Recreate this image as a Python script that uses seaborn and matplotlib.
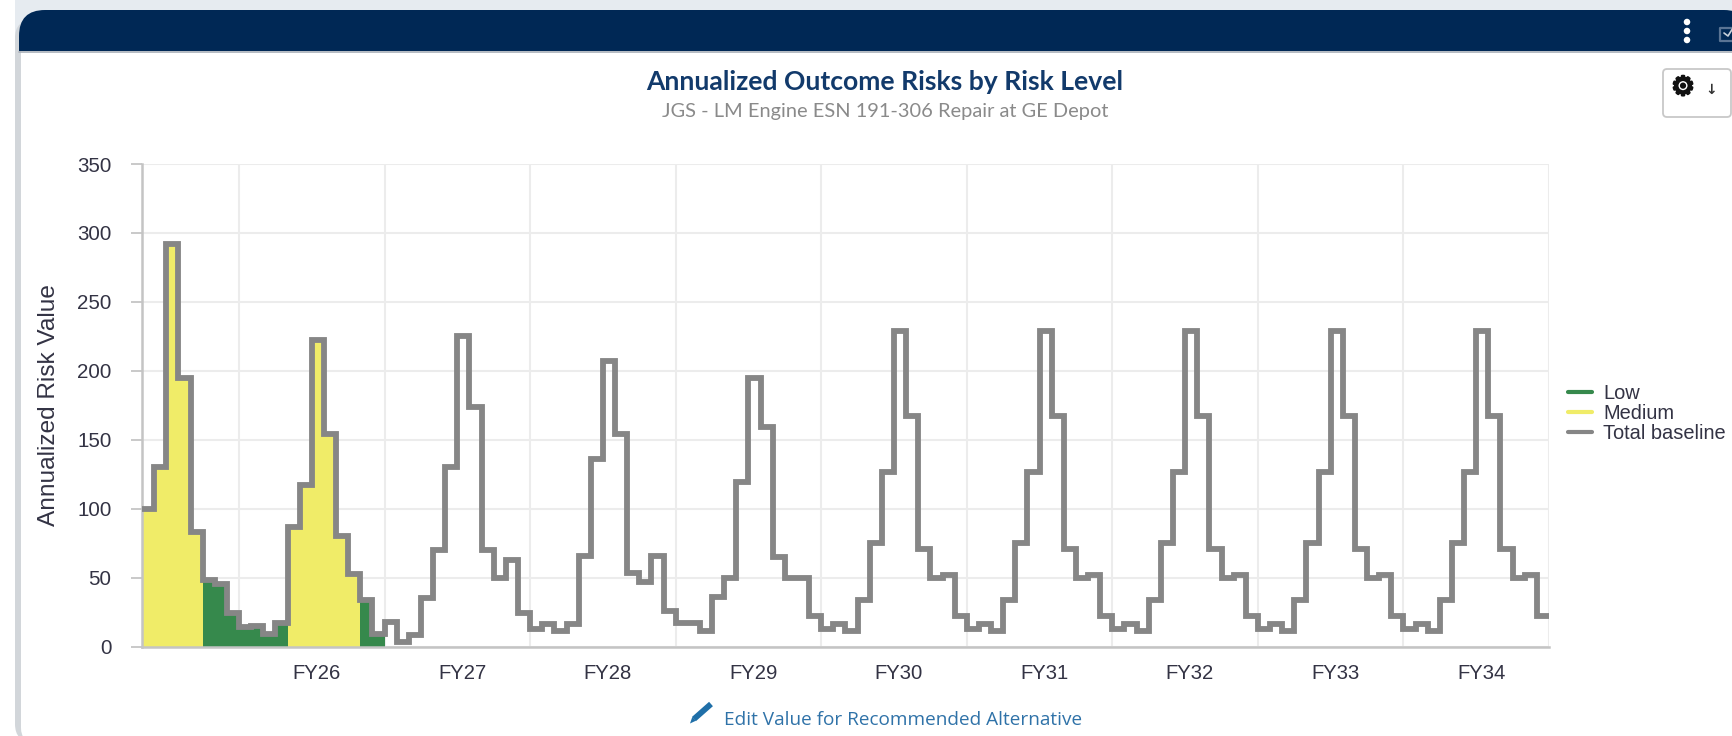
import numpy as np
import pandas as pd
import matplotlib
matplotlib.use("Agg")
import matplotlib.pyplot as plt
import matplotlib.patheffects as pe
from matplotlib.patches import FancyBboxPatch, Rectangle, Ellipse, Polygon
from matplotlib.lines import Line2D
import seaborn as sns

title = "Annualized Outcome Risks by Risk Level"
subtitle = "JGS - LM Engine ESN 191-306 Repair at GE Depot"
ylabel = "Annualized Risk Value"
footer = "Edit Value for Recommended Alternative"
fy_labels = ["FY26", "FY27", "FY28", "FY29", "FY30", "FY31", "FY32", "FY33", "FY34"]
y_ticks = [0, 50, 100, 150, 200, 250, 300, 350]

baseline = [
    100, 130, 292, 195, 83, 48, 45, 24.5,
    14.5, 15, 9, 17, 87, 117, 222, 154, 80, 52.5, 34, 9,
    18, 3.6, 8, 35, 70, 130.5, 225, 173.5, 70, 49.5, 62.4, 24,
    13, 16.4, 11.6, 16.4, 65.7, 136, 207, 154, 53, 46.6, 65.7, 26,
    17.4, 17.4, 11.6, 35.8, 50, 119, 194.6, 159.5, 65, 50, 50, 22,
    13, 16.4, 11.6, 34, 75, 126.5, 228.5, 167.5, 70.6, 49.5, 52, 22,
    13, 16.4, 11.6, 34, 75, 126.5, 228.5, 167.5, 70.6, 49.5, 52, 22,
    13, 16.4, 11.6, 34, 75, 126.5, 228.5, 167.5, 70.6, 49.5, 52, 22,
    13, 16.4, 11.6, 34, 75, 126.5, 228.5, 167.5, 70.6, 49.5, 52, 22,
    13, 16.4, 11.6, 34, 75, 126.5, 228.5, 167.5, 70.6, 49.5, 52, 22,
]
medium_months = [0, 1, 2, 3, 4, 12, 13, 14, 15, 16, 17]
low_months = [5, 6, 7, 8, 9, 10, 11, 18, 19]

NAVY = "#002855"
W, H = 1733, 736
sns.set_theme(style="white")
plt.rcParams["font.family"] = ["Liberation Sans", "DejaVu Sans"]
fig = plt.figure(figsize=(W / 100, H / 100), dpi=100, facecolor="white")

def fx(px): return px / W
def fy(px): return 1 - px / H

# page furniture, in pixel coordinates of a background axes
bg = fig.add_axes([0, 0, 1, 1], zorder=-1)
bg.set_xlim(0, W); bg.set_ylim(H, 0); bg.axis("off")
bg.add_patch(Rectangle((15, 0), W, 60, fc="#e6ebf0", ec="none", zorder=1))
bg.add_patch(FancyBboxPatch((15, 20), W + 40, 722, boxstyle="round,pad=0,rounding_size=18",
                            fc="#d2d6da", ec="none", zorder=1))
bg.add_patch(FancyBboxPatch((21, 30), W + 40, 712, boxstyle="round,pad=0,rounding_size=14",
                            fc="white", ec="none", zorder=2))
bg.add_patch(FancyBboxPatch((19, 10), W + 15 - 19 + 2, 70, boxstyle="round,pad=0,rounding_size=26",
                            fc=NAVY, ec="none", zorder=3))
bg.add_patch(Rectangle((21, 51), W, 40, fc="white", ec="none", zorder=4))
bg.add_patch(Rectangle((15, 51), 6, 40, fc="#d2d6da", ec="none", zorder=4))
bg.plot([19, W], [52, 52], color="#a8afb8", lw=1.2, zorder=5)
for py in (22, 31, 40):
    bg.add_patch(Ellipse((1687, py), 6.5, 6.5, fc="white", ec="none", zorder=6))
bg.plot([1733, 1720, 1720, 1733], [28, 28, 41, 41], color="#5a7494", lw=1.6, zorder=6)
bg.plot([1724, 1728, 1733], [33, 36, 28], color="#c7d0da", lw=1.2, zorder=6)
bg.add_patch(FancyBboxPatch((1663, 69), 68, 48, boxstyle="round,pad=0,rounding_size=4",
                            fc="white", ec="#c8c8c8", lw=1.3, zorder=6))
bg.text(1683, 88, "\u2699", fontsize=19, family="DejaVu Sans", ha="center", va="center", color="#111111", zorder=7,
        path_effects=[pe.withStroke(linewidth=1.6, foreground="#111111")])
bg.text(1711, 90, "\u2193", fontsize=10, family="DejaVu Sans", ha="center", va="center", color="#333333",
        fontweight="bold", zorder=7)
# pencil icon
bg.plot([694, 711], [719, 704], color="#1f6fa8", lw=4.2, solid_capstyle="butt", zorder=7)
bg.add_patch(Polygon([(696.0, 720.7), (692.3, 716.9), (690, 723.5)], fc="#1f6fa8", ec="none", zorder=7))

# axes
L, R, T, B = 142, 1549, 164, 646.5
ax = fig.add_axes([fx(L), fy(B), (R - L) / W, (B - T) / H])
ax.patch.set_alpha(0)

n = len(baseline)
edges = np.arange(n + 1)
closed = np.append(baseline, baseline[-1])
medium = np.full(n + 1, np.nan)
low = np.full(n + 1, np.nan)
for m in medium_months:
    medium[m] = baseline[m]
    if np.isnan(medium[m + 1]):
        medium[m + 1] = baseline[m]
for m in low_months:
    low[m] = baseline[m]
    if np.isnan(low[m + 1]):
        low[m + 1] = baseline[m]

ax.fill_between(edges, 0, medium, step="post", color="#f0ec68", lw=0, zorder=2)
ax.fill_between(edges, 0, low, step="post", color="#36894c", lw=0, zorder=2)
df = pd.DataFrame({"month": edges, "value": closed})
sns.lineplot(data=df, x="month", y="value", ax=ax, color="#868686", lw=4.2, drawstyle="steps-post",
             zorder=3, solid_joinstyle="miter", errorbar=None)

ax.set_xlim(0, n)
ax.set_ylim(0, 350)
ax.set_yticks(y_ticks)
boundaries = [8 + 12 * i for i in range(10)]
ax.set_xticks(boundaries)
ax.set_xticklabels([])
ax.set_xticks([b + 6.4 for b in boundaries[:-1]], minor=True)
ax.set_xticklabels(fy_labels, minor=True)
ax.grid(True, which="major", color="#ececec", lw=1.5, zorder=0)
ax.set_axisbelow(True)
ax.tick_params(axis="x", which="major", length=4, width=1.2, color="#c0c0c0")
ax.tick_params(axis="x", which="minor", length=0, pad=12.3, labelsize=14.6, labelcolor="#333344")
ax.tick_params(axis="y", length=8, width=1.2, color="#c0c0c0", pad=14, labelsize=14.8, labelcolor="#333344", left=True)
ax.set_xlabel("")
ax.set_ylabel("")
for s in ("top", "right"):
    ax.spines[s].set_visible(False)
ax.spines["left"].set_color("#c4c4c4"); ax.spines["left"].set_linewidth(1.8)
ax.spines["bottom"].set_color("#c4c4c4"); ax.spines["bottom"].set_linewidth(1.8)

fig.text(fx(49), fy(405), ylabel, rotation=90, ha="center", va="center", fontsize=17.6, color="#333344")

handles = [Line2D([], [], color="#36894c", lw=3), Line2D([], [], color="#f0ec68", lw=3), Line2D([], [], color="#868686", lw=3)]
fig.legend(handles, ["Low", "Medium", "Total baseline"], loc="upper left", bbox_to_anchor=(fx(1568), fy(384.5)),
           frameon=False, fontsize=14.4, handlelength=1.2, handletextpad=0.55, labelspacing=0.05,
           borderpad=0, borderaxespad=0, labelcolor="#333344")

fig.text(fx(885), fy(82), title, ha="center", va="center", fontsize=19.1, color="#123a6b", family="Lato", fontweight="bold")
fig.text(fx(885), fy(111), subtitle, ha="center", va="center", fontsize=14.4, color="#8a8a8a", family="Lato")
fig.text(fx(724), fy(720), footer, ha="left", va="center", fontsize=13.7, color="#2f72a8", family="Open Sans")

fig.savefig("out.png", dpi=100, facecolor="white")
